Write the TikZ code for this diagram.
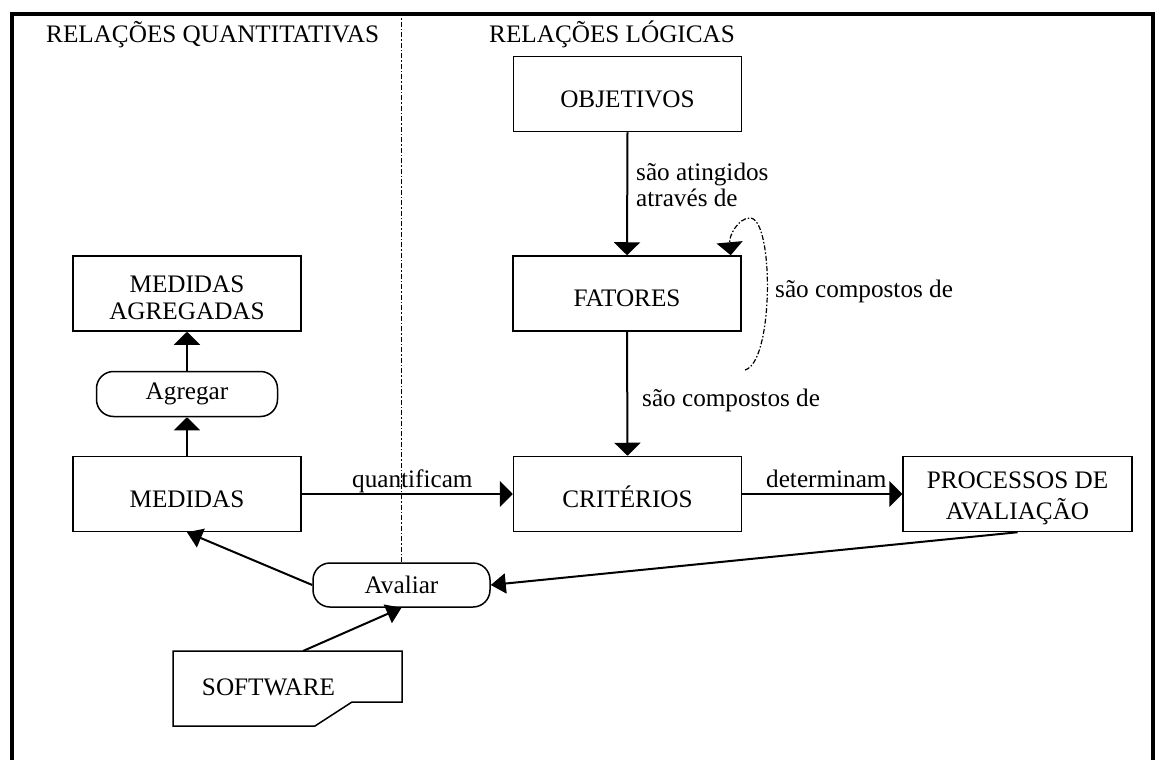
\documentclass[tikz,border=0pt]{standalone}
\usepackage{fontspec}
\setmainfont{Liberation Serif}
\usetikzlibrary{arrows.meta}
\begin{document}
\begin{tikzpicture}[x=1pt,y=-1pt,
  every node/.style={font=\fontsize{25.2}{27}\selectfont, inner sep=0pt},
  box/.style={draw, line width=1.5pt, minimum width=228pt, minimum height=75pt},
  capbox/.style={box, text height=26pt, text depth=0pt},
  pill/.style={draw, line width=1.5pt, rounded corners=17pt},
  link/.style={line width=2pt, -{Triangle[length=13pt,width=26pt]}},
  slant/.style={line width=2pt, -{Triangle[length=15pt,width=20pt]}},
  divider/.style={line width=1pt, dash pattern=on 5pt off 2pt on 1.5pt off 2pt},
  lbl/.style={anchor=base west}]
\useasboundingbox (0,0) rectangle (1160,760);

% outer frame (open at the bottom)
\coordinate (fbl) at (12,760);
\coordinate (ftl) at (12,14);
\coordinate (ftr) at (1153,14);
\coordinate (fbr) at (1153,760);
\draw[line width=3.2pt] (fbl) -- (ftl) -- (ftr) -- (fbr);

% column titles
\node[lbl] (tq) at (46,43) {RELAÇÕES QUANTITATIVAS};
\node[lbl] (tl) at (489,43) {RELAÇÕES LÓGICAS};

% logical relations
\node[capbox] (obj)  at (627.5,94)  {OBJETIVOS};
\node[capbox] (fat)  at (627,293.5) {FATORES};
\node[capbox] (crit) at (627.5,494) {CRITÉRIOS};
\node[box, align=center, minimum width=229pt, font=\fontsize{25.2}{31}\selectfont]
      (proc) at (1017.5,494) {\rule{0pt}{26pt}PROCESSOS DE\\AVALIAÇÃO};

% quantitative relations
\node[box, align=center] (agg) at (187,293.5) {\rule{0pt}{26pt}MEDIDAS\\AGREGADAS};
\node[pill, minimum width=181pt, minimum height=45pt] (agr) at (187,394) {Agregar};
\node[capbox] (med) at (187,494) {MEDIDAS};
\node[pill, minimum width=177pt, minimum height=44pt] (ava) at (401.5,585) {Avaliar};

% software (document-like outline)
\coordinate (s1) at (173,651);
\coordinate (s2) at (402,651);
\coordinate (s3) at (402,702);
\coordinate (s4) at (352,702);
\coordinate (s5) at (315,726);
\coordinate (s6) at (173,726);
\coordinate (softtop) at (303,651);
\draw[line width=1.5pt, line join=miter] (s1) -- (s2) -- (s3) -- (s4) -- (s5) -- (s6) -- cycle;
\node[anchor=base] (soft) at (268.5,695) {SOFTWARE};

% dividing line between the two columns
\draw[divider] (ava.north) -- (ava.north |- ftl);

% connectors
\draw[link] (obj.south) -- (fat.north);
\node[lbl, anchor=west, align=left, font=\fontsize{25.2}{26}\selectfont]
      (lat) at (636,184.5) {são atingidos\\através de};

\coordinate (loopend) at (745,370);
\draw[divider, line width=1.2pt, -{Triangle[length=13pt,width=26pt]}]
  (loopend) .. controls (774,362) and (774,218) .. (750,218)
            .. controls (738,218) and (729,236) .. ([xshift=-11pt]fat.north east);
\node[lbl] (lloop) at (775,297) {são compostos de};

\draw[link] (fat.south) -- (crit.north);
\node[lbl] (lcomp) at (642,406) {são compostos de};

\draw[link] (med.east) -- (crit.west);
\node[lbl] (lquant) at (352,487) {quantificam};

\draw[link] (crit.east) -- (proc.west);
\node[lbl] (ldet) at (766,487) {determinam};

\draw[link] (med.north) -- (agr.south);
\draw[link] (agr.north) -- (agg.south);

\draw[slant] (proc.south) -- (ava.east);
\draw[slant] (ava.west) -- (med.south);
\draw[slant] (softtop) -- (ava.south);
\end{tikzpicture}
\end{document}
